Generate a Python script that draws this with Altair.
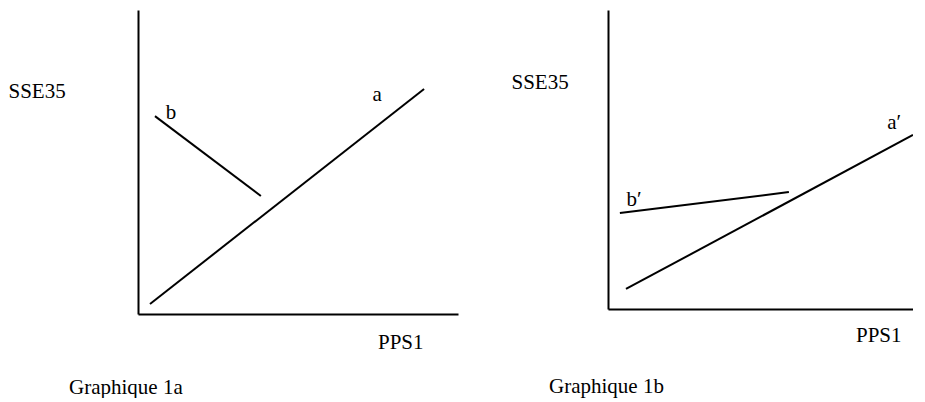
import altair as alt
import pandas as pd

FONT = "Liberation Serif, Times New Roman, serif"
FS = 21

# ---- Graphique 1a (arbitrary units 0..10 on both axes) ----
a_x = [0.375, 8.94]
a_y = [0.33, 7.40]
b_x = [0.53, 3.84]
b_y = [6.51, 3.88]
lab1_text = ["a", "b"]
lab1_x = [7.47, 1.03]
lab1_y = [7.20, 6.61]

# ---- Graphique 1b ----
a2_x = [0.59, 10.0]
a2_y = [0.67, 5.82]
b2_x = [0.39, 5.93]
b2_y = [3.21, 3.91]
lab2_text = ["a′", "b′"]
lab2_x = [9.38, 0.85]
lab2_y = [6.22, 3.65]

x_title = "PPS1"
y_title = "SSE35"


def panel(lines, labels, width, height, ytx, yty, xtx, xty, title, tdx, toff):
    ldf = pd.concat(
        [pd.DataFrame({"s": name, "x": xs, "y": ys}) for name, xs, ys in lines],
        ignore_index=True,
    )
    tdf = pd.DataFrame({"t": labels[0], "x": labels[1], "y": labels[2]})
    xs = alt.Scale(domain=[0, 10], nice=False, zero=False)
    ys = alt.Scale(domain=[0, 10], nice=False, zero=False)
    xax = alt.Axis(
        ticks=False, labels=False, grid=False, domainColor="black", domainWidth=2,
        title=x_title, titleX=xtx, titleY=xty, titleAlign="right",
        titleBaseline="middle", titleFont=FONT, titleFontSize=FS,
        titleFontWeight="normal", titleColor="black",
    )
    yax = alt.Axis(
        ticks=False, labels=False, grid=False, domainColor="black", domainWidth=2,
        title=y_title, titleAngle=0, titleX=ytx, titleY=yty, titleAlign="left",
        titleBaseline="middle", titleFont=FONT, titleFontSize=FS,
        titleFontWeight="normal", titleColor="black",
    )
    base_lines = alt.Chart(ldf).mark_line(color="black", strokeWidth=2, clip=True).encode(
        x=alt.X("x:Q", scale=xs, axis=xax),
        y=alt.Y("y:Q", scale=ys, axis=yax),
        detail="s:N",
    )
    txt = alt.Chart(tdf).mark_text(
        font=FONT, fontSize=FS, color="black", align="center", baseline="middle"
    ).encode(x=alt.X("x:Q", scale=xs), y=alt.Y("y:Q", scale=ys), text="t:N")
    return alt.layer(base_lines, txt).properties(
        width=width,
        height=height,
        view=alt.ViewBackground(stroke="transparent", strokeWidth=0),
        title=alt.TitleParams(
            text=title, orient="bottom", anchor="start", frame="group",
            dx=tdx, offset=toff, font=FONT, fontSize=FS, fontWeight="normal",
            color="black",
        ),
    )


p1 = panel(
    [("a", a_x, a_y), ("b", b_x, b_y)],
    (lab1_text, lab1_x, lab1_y),
    320, 304, -130, 81, 285, 28, "Graphique 1a", -69, 25,
)
p2 = panel(
    [("a2", a2_x, a2_y), ("b2", b2_x, b2_y)],
    (lab2_text, lab2_x, lab2_y),
    305, 299, -97, 72, 293, 26, "Graphique 1b", -59, 31,
)

chart = (
    alt.hconcat(p1, p2, spacing=53)
    .properties(padding={"left": 0, "top": 2, "right": 0, "bottom": 0})
    .configure_view(strokeWidth=0, stroke="transparent")
    .configure(background="white")
)

chart.save("out.html", embed_options={"renderer": "svg", "actions": False})
